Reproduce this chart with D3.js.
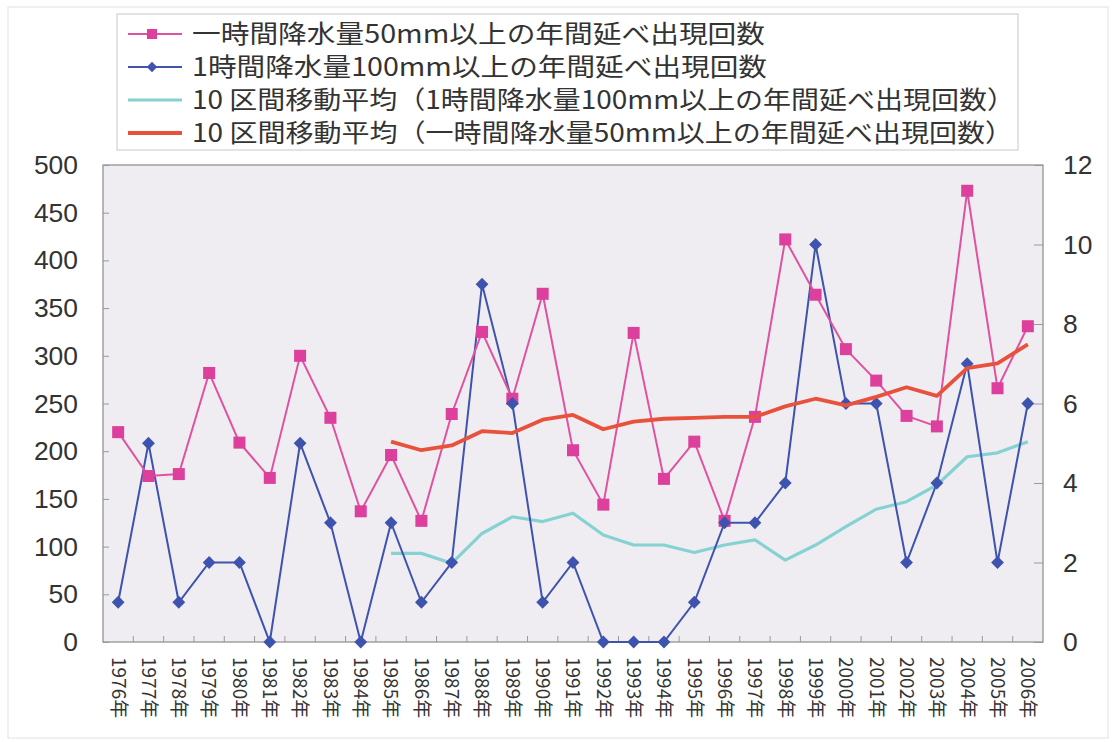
<!DOCTYPE html>
<html><head><meta charset="utf-8">
<script src="https://cdn.jsdelivr.net/npm/d3@7"></script>
<style>html,body{margin:0;padding:0;background:#fff;}</style>
</head><body>
<svg id="c" width="1115" height="742"></svg>
<script>
const years = ["1976年","1977年","1978年","1979年","1980年","1981年","1982年","1983年","1984年","1985年","1986年","1987年","1988年","1989年","1990年","1991年","1992年","1993年","1994年","1995年","1996年","1997年","1998年","1999年","2000年","2001年","2002年","2003年","2004年","2005年","2006年"];
// 一時間降水量50mm以上 (left axis)
const count50 = [220,174,176,282,209,172,300,235,137,196,127,239,325,255,365,201,144,324,171,210,127,236,422,364,307,274,237,226,473,266,331];
// 1時間降水量100mm以上 (right axis)
const count100 = [1,5,1,2,2,0,5,3,0,3,1,2,9,6,1,2,0,0,0,1,3,3,4,10,6,6,2,4,7,2,6];
// 10区間移動平均 (100mm, right axis)
const avg100 = [null,null,null,null,null,null,null,null,null,2.23,2.23,1.98,2.73,3.15,3.03,3.24,2.69,2.44,2.44,2.25,2.44,2.57,2.06,2.44,2.9,3.34,3.53,3.95,4.66,4.76,5.04];
// 10区間移動平均 (50mm, left axis)
const avg50 = [null,null,null,null,null,null,null,null,null,210,201,206,221,219,233,238,223,231,234,235,236,236,247,255,248,257,267,258,287,292,312];
const leftTicks = [0,50,100,150,200,250,300,350,400,450,500];
const rightTicks = [0,2,4,6,8,10,12];
const legendLabels = [
  "一時間降水量50mm以上の年間延べ出現回数",
  "1時間降水量100mm以上の年間延べ出現回数",
  "10 区間移動平均（1時間降水量100mm以上の年間延べ出現回数）",
  "10 区間移動平均（一時間降水量50mm以上の年間延べ出現回数）"
];

const svg = d3.select("#c");
const X0=103, X1=1043, Y0=165, Y1=642;
const pink="#dc3f9c", pinkLine="#e0529f", blue="#3e53ae", cyan="#86d2d3", red="#e8523c";
const font="'Liberation Sans', Arial, sans-serif";
const cjk="'Noto Sans CJK JP', 'Noto Sans', sans-serif";

svg.append("rect").attr("x",8).attr("y",7).attr("width",1100).attr("height",731)
  .attr("fill","#fff").attr("stroke","#e2e2e2");

const x = d3.scaleBand().domain(years).range([X0,X1]);
const yL = d3.scaleLinear().domain([0,500]).range([Y1,Y0]);
const yR = d3.scaleLinear().domain([0,12]).range([Y1,Y0]);
const cx = d => x(d)+x.bandwidth()/2;

// plot area
svg.append("rect").attr("x",X0).attr("y",Y0).attr("width",X1-X0).attr("height",Y1-Y0)
  .attr("fill","#efedf2").attr("stroke","#8a8a8a").attr("stroke-width",1.2);

// left axis
const gL = svg.append("g").attr("transform",`translate(${X0},0)`)
  .call(d3.axisRight(yL).tickValues(leftTicks).tickSize(6).tickFormat(""));
gL.select(".domain").remove();
gL.selectAll("line").attr("stroke","#999");
svg.append("g").selectAll("text").data(leftTicks).join("text")
  .attr("x",78).attr("y",d=>yL(d)).attr("dy","0.36em").attr("text-anchor","end")
  .attr("font-family",font).attr("font-size",25).attr("fill","#333")
  .attr("textLength",d=>String(d).length*14.7).attr("lengthAdjust","spacingAndGlyphs").text(d=>d);

// right axis
const gR = svg.append("g").attr("transform",`translate(${X1},0)`)
  .call(d3.axisLeft(yR).tickValues(rightTicks).tickSize(9).tickFormat(""));
gR.select(".domain").remove();
gR.selectAll("line").attr("stroke","#999");
svg.append("g").selectAll("text").data(rightTicks).join("text")
  .attr("x",1063).attr("y",d=>yR(d)).attr("dy","0.36em").attr("text-anchor","start")
  .attr("font-family",font).attr("font-size",25).attr("fill","#333")
  .attr("textLength",d=>String(d).length*14.7).attr("lengthAdjust","spacingAndGlyphs").text(d=>d);

// bottom ticks at band boundaries
svg.append("g").selectAll("line").data(years.slice(1)).join("line")
  .attr("x1",d=>x(d)).attr("x2",d=>x(d)).attr("y1",Y1).attr("y2",Y1-6)
  .attr("stroke","#999");
svg.append("g").selectAll("text").data(years).join("text")
  .attr("transform",d=>`translate(${cx(d)},657) rotate(90)`)
  .attr("dy","0.35em").attr("text-anchor","start")
  .attr("font-family",cjk).attr("font-size",19).attr("fill","#333").text(d=>d);

// lines
const lineL = d3.line().defined(d=>d.v!=null).x(d=>cx(d.k)).y(d=>yL(d.v));
const lineR = d3.line().defined(d=>d.v!=null).x(d=>cx(d.k)).y(d=>yR(d.v));
const zip = arr => years.map((k,i)=>({k,v:arr[i]}));

svg.append("path").datum(zip(avg100)).attr("d",lineR).attr("fill","none")
  .attr("stroke",cyan).attr("stroke-width",3.2).attr("stroke-linejoin","round");
svg.append("path").datum(zip(count100)).attr("d",lineR).attr("fill","none")
  .attr("stroke",blue).attr("stroke-width",2);
svg.append("path").datum(zip(count50)).attr("d",lineL).attr("fill","none")
  .attr("stroke",pinkLine).attr("stroke-width",2);

// markers pink squares
svg.append("g").selectAll("rect").data(zip(count50)).join("rect")
  .attr("x",d=>cx(d.k)-6).attr("y",d=>yL(d.v)-6).attr("width",12).attr("height",12)
  .attr("fill",pink);
// blue diamonds
svg.append("g").selectAll("path").data(zip(count100)).join("path")
  .attr("d",d3.symbol().type(d3.symbolSquare).size(82)).attr("fill",blue)
  .attr("transform",d=>`translate(${cx(d.k)},${yR(d.v)}) rotate(45)`);

svg.append("path").datum(zip(avg50)).attr("d",lineL).attr("fill","none")
  .attr("stroke",red).attr("stroke-width",3.8).attr("stroke-linejoin","round");

// legend
svg.append("rect").attr("x",117).attr("y",14).attr("width",901).attr("height",136)
  .attr("fill","#fff").attr("stroke","#c8c8c8");
const rowsY = [34,67,100,133];
const lens = [573,575,823,821];
const lg = svg.append("g");
const styles = [
  {c:pinkLine,w:2,m:"sq"},{c:blue,w:2,m:"di"},{c:cyan,w:3.2,m:null},{c:red,w:3.8,m:null}
];
legendLabels.forEach((t,i)=>{
  const y=rowsY[i], s=styles[i];
  lg.append("line").attr("x1",128).attr("x2",182).attr("y1",y).attr("y2",y)
    .attr("stroke",s.c).attr("stroke-width",s.w);
  if(s.m==="sq") lg.append("rect").attr("x",147).attr("y",y-5).attr("width",10).attr("height",10).attr("fill",pink);
  if(s.m==="di") lg.append("path").attr("d",d3.symbol().type(d3.symbolSquare).size(55)).attr("fill",blue)
    .attr("transform",`translate(152,${y}) rotate(45)`);
  lg.append("text").attr("x",192).attr("y",y).attr("dy","0.36em")
    .attr("font-family",cjk).attr("font-size",25).attr("fill","#333")
    .attr("textLength",lens[i]).attr("lengthAdjust","spacingAndGlyphs").text(t);
});
</script>
</body></html>
